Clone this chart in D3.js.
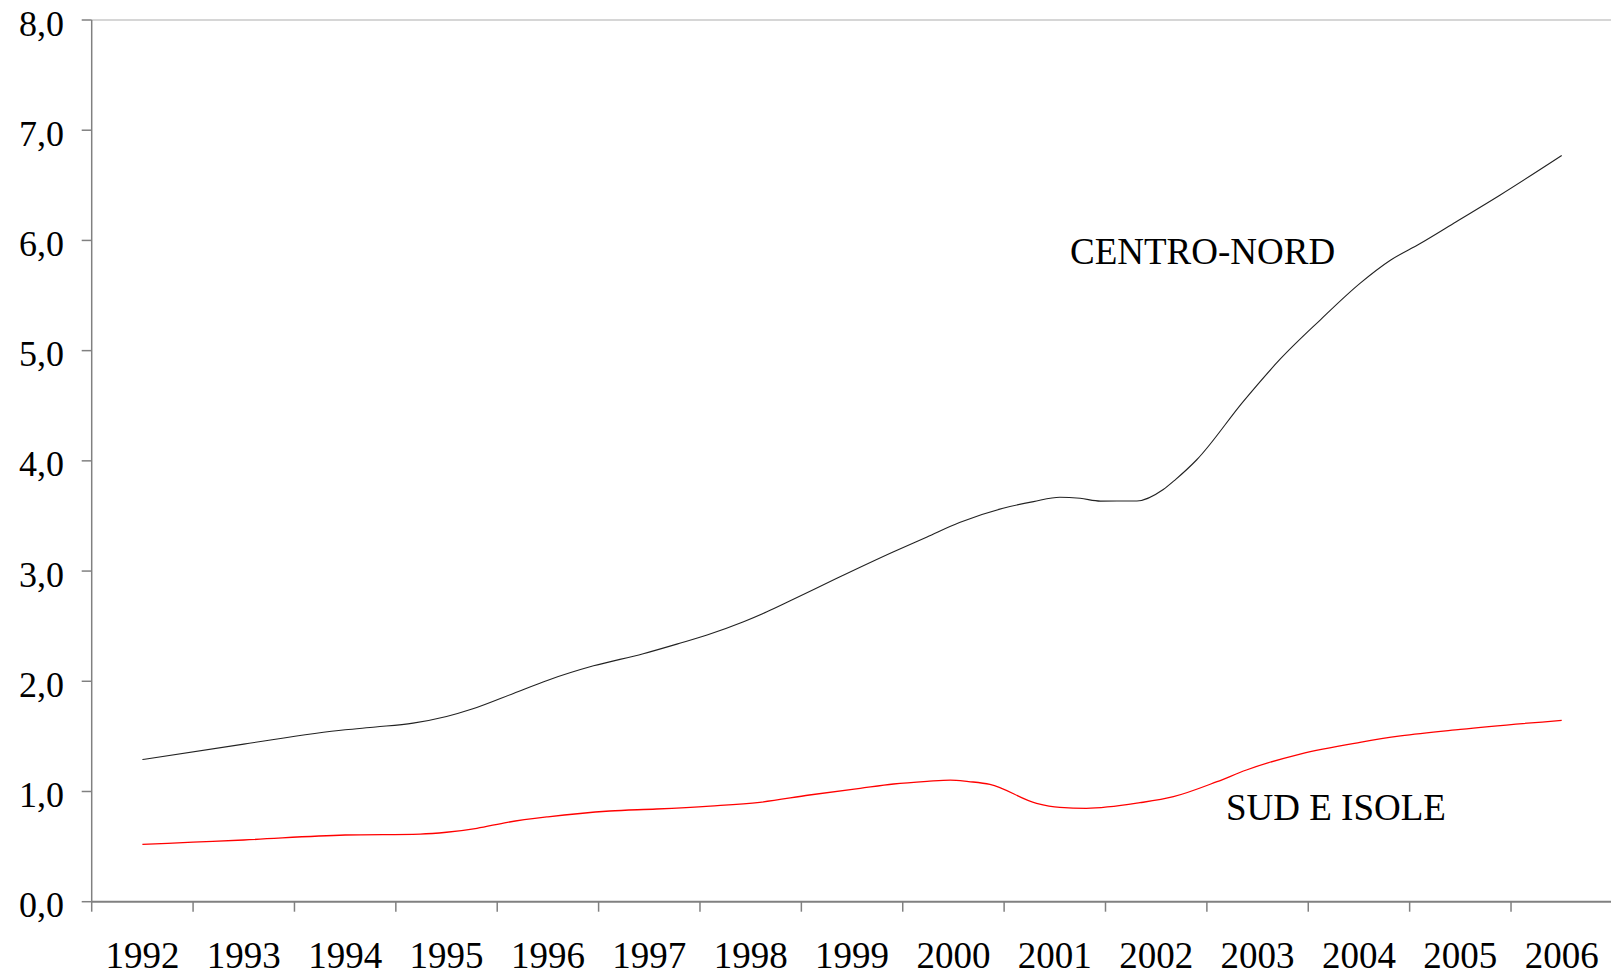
<!DOCTYPE html>
<html>
<head>
<meta charset="utf-8">
<script src="https://cdn.jsdelivr.net/npm/d3@7"></script>
<style>
  html, body { margin: 0; padding: 0; background: #fff; }
  svg { display: block; }
  text { font-family: "Liberation Serif", "Times New Roman", serif; fill: #000; }
</style>
</head>
<body>
<svg id="chart" width="1611" height="978"></svg>
<script>
// ---- Data ----
const categories = ["1992","1993","1994","1995","1996","1997","1998","1999","2000","2001","2002","2003","2004","2005","2006"];
const yTicks = [0, 1, 2, 3, 4, 5, 6, 7, 8];

const centroNordTime = [1992.0, 1993.0, 1994.0, 1994.3, 1994.67, 1995.0, 1995.26, 1995.66, 1996.0, 1996.45, 1996.94, 1997.3, 1997.57, 1997.93, 1998.16, 1998.39, 1998.85, 1999.41, 1999.74, 2000.06, 2000.49, 2000.79, 2001.05, 2001.25, 2001.45, 2001.81, 2002.07, 2002.19, 2002.4, 2002.86, 2003.22, 2003.62, 2004.01, 2004.31, 2004.6, 2004.96, 2005.39, 2006.0];
const centroNordValues = [1.29, 1.43, 1.56, 1.585, 1.62, 1.68, 1.75, 1.89, 2.01, 2.14, 2.25, 2.345, 2.42, 2.54, 2.63, 2.73, 2.935, 3.176, 3.31, 3.44, 3.57, 3.63, 3.67, 3.66, 3.635, 3.636, 3.74, 3.83, 4.01, 4.54, 4.92, 5.28, 5.61, 5.82, 5.97, 6.17, 6.41, 6.77];

const sudTime = [1992.0, 1992.5, 1993.0, 1994.0, 1994.74, 1995.0, 1995.3, 1995.6, 1996.0, 1996.61, 1997.07, 1997.6, 1998.09, 1998.58, 1999.08, 1999.41, 1999.74, 1999.97, 2000.15, 2000.36, 2000.82, 2001.05, 2001.31, 2001.84, 2002.17, 2002.6, 2002.89, 2003.42, 2004.01, 2004.41, 2005.0, 2006.0];
const sudValues = [0.52, 0.54, 0.56, 0.605, 0.614, 0.63, 0.666, 0.72, 0.77, 0.823, 0.841, 0.868, 0.902, 0.968, 1.029, 1.068, 1.092, 1.104, 1.09, 1.065, 0.893, 0.856, 0.847, 0.898, 0.953, 1.089, 1.195, 1.34, 1.446, 1.504, 1.564, 1.646];

const seriesLabels = ["CENTRO-NORD", "SUD E ISOLE"];

// ---- Layout ----
const svg = d3.select("#chart");
const plotLeft = 91.7, plotRight = 1612.4, plotTop = 20, plotBottom = 901.7;

const x = d3.scaleLinear().domain([1991.5, 2006.5]).range([plotLeft, plotRight]);
const y = d3.scaleLinear().domain([0, 8]).range([plotBottom, plotTop]);
const fmt = v => d3.format(".1f")(v).replace(".", ",");

// top border line
svg.append("line")
  .attr("x1", plotLeft).attr("x2", 1611).attr("y1", y(8)).attr("y2", y(8))
  .attr("stroke", "#c8c8c8").attr("stroke-width", 1.3);

// Y axis
const yAxis = svg.append("g");
yAxis.append("line")
  .attr("x1", plotLeft).attr("x2", plotLeft).attr("y1", plotTop).attr("y2", plotBottom)
  .attr("stroke", "#808080").attr("stroke-width", 1.5);
yAxis.selectAll("line.tick").data(yTicks).join("line")
  .attr("class", "tick")
  .attr("x1", plotLeft - 10).attr("x2", plotLeft)
  .attr("y1", d => y(d)).attr("y2", d => y(d))
  .attr("stroke", "#808080").attr("stroke-width", 1.5);
yAxis.selectAll("text").data(yTicks).join("text")
  .attr("x", 64).attr("y", d => y(d) + 15.5)
  .attr("text-anchor", "end")
  .attr("font-size", 36)
  .text(d => fmt(d));

// X axis
const xAxis = svg.append("g");
xAxis.append("line")
  .attr("x1", plotLeft).attr("x2", 1611).attr("y1", plotBottom).attr("y2", plotBottom)
  .attr("stroke", "#808080").attr("stroke-width", 2);
const boundaries = categories.map(c => +c - 0.5);
xAxis.selectAll("line.tick").data(boundaries).join("line")
  .attr("class", "tick")
  .attr("x1", d => x(d)).attr("x2", d => x(d))
  .attr("y1", plotBottom).attr("y2", plotBottom + 10)
  .attr("stroke", "#808080").attr("stroke-width", 1.5);
xAxis.selectAll("text").data(categories).join("text")
  .attr("x", d => x(+d)).attr("y", 968)
  .attr("text-anchor", "middle")
  .attr("font-size", 37)
  .text(d => d);

// Lines
const line = d3.line().x(d => x(d[0])).y(d => y(d[1])).curve(d3.curveMonotoneX);
const cn = centroNordTime.map((t, i) => [t, centroNordValues[i]]);
const sd = sudTime.map((t, i) => [t, sudValues[i]]);

svg.append("path").datum(cn)
  .attr("d", line).attr("fill", "none")
  .attr("stroke", "#222").attr("stroke-width", 1.1);
svg.append("path").datum(sd)
  .attr("d", line).attr("fill", "none")
  .attr("stroke", "#ff0000").attr("stroke-width", 1.3);

// Series labels
svg.append("text").attr("x", 1070).attr("y", 263.5)
  .attr("font-size", 37).text(seriesLabels[0]);
svg.append("text").attr("x", 1226).attr("y", 820)
  .attr("font-size", 37).text(seriesLabels[1]);
</script>
</body>
</html>
